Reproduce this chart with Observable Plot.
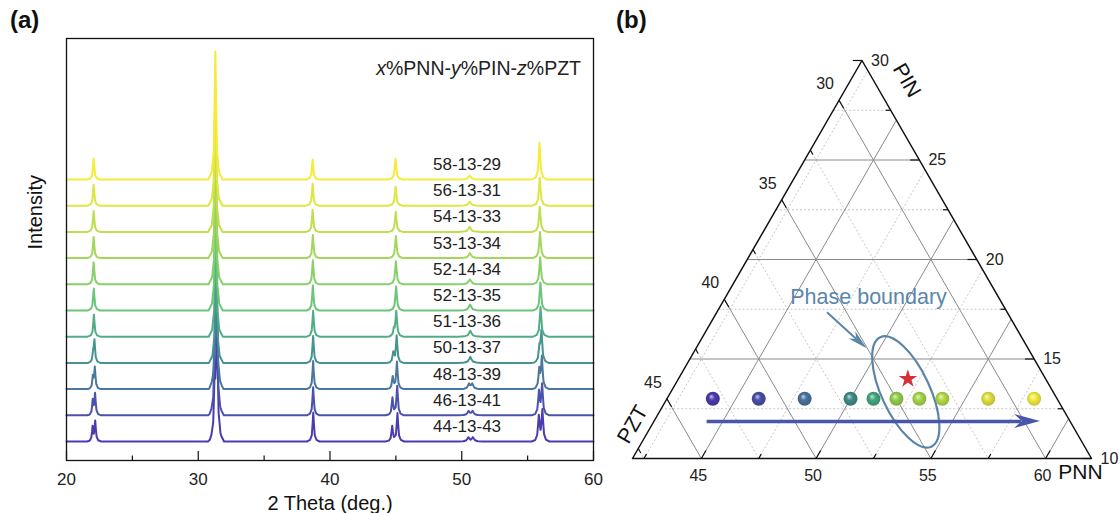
<!DOCTYPE html>
<html><head><meta charset="utf-8">
<script src="https://cdn.jsdelivr.net/npm/d3@7"></script>
<script src="https://cdn.jsdelivr.net/npm/@observablehq/plot@0.6"></script>
<style>
body{margin:0;background:#fff;font-family:"Liberation Sans",Arial,sans-serif;}
#wrap{position:relative;width:1120px;height:513px;overflow:hidden;background:#fff}
#pa{position:absolute;left:0;top:0}
#pb{position:absolute;left:600px;top:0}
.tag{position:absolute;font-weight:bold;font-size:24px;line-height:24px;color:#111;font-family:"Liberation Sans",Arial,sans-serif}
</style></head><body>
<div id="wrap"><div id="pa"></div><div id="pb"></div>
<div class="tag" style="left:10px;top:8px">(a)</div>
<div class="tag" style="left:616px;top:8px">(b)</div></div>
<script>
// ---------- data ----------
const samples = ["44-13-43","46-13-41","48-13-39","50-13-37","51-13-36","52-13-35","52-14-34","53-13-34","54-13-33","56-13-31","58-13-29"];
const pnn = [44,46,48,50,51,52,52,53,54,56,58];
const pin = [13,13,13,13,13,13,14,13,13,13,13];
const pzt = [43,41,39,37,36,35,34,34,33,31,29];
const traceColors = ["#4a3cb0","#4b52ad","#4b76a0","#47938f","#52ad85","#6cc57a","#88d06c","#a3d75c","#c0de4f","#dde643","#f5ec3a"];
const ballColors  = ["#4b3aae","#4a4fa8","#49739e","#3e8c88","#43a67f","#93cd4d","#d62f3a","#a6d54a","#b3d947","#dfe03e","#f1eb3d"];
const starSample = "52-14-34";
// XRD peaks per sample: [2theta, height, width]
const peakList = [
 [[21.98,14,.14],[22.18,20,.15],[31.25,55,.17],[31.42,118,.18],[38.73,29,.16],[44.72,15,.17],[45.12,28,.17],[50.5,4,.25],[50.85,4,.25],[55.85,25,.18],[56.12,31,.18]],
 [[21.99,14,.14],[22.17,21,.15],[31.26,50,.17],[31.4,118,.18],[38.72,28,.16],[44.74,17,.17],[45.1,29,.17],[50.52,4,.25],[50.82,4,.25],[55.86,23,.18],[56.1,30,.18]],
 [[22.0,11,.14],[22.15,21,.15],[31.28,40,.17],[31.38,118,.18],[38.72,28,.16],[44.76,12,.17],[45.08,27,.17],[50.55,5,.25],[50.8,5,.25],[55.88,18,.18],[56.08,31,.18]],
 [[22.02,8,.14],[22.12,22,.15],[31.35,120,.18],[38.72,27,.16],[44.8,10,.17],[45.06,27,.17],[50.65,6,.3],[55.9,14,.18],[56.05,31,.18]],
 [[22.08,22,.16],[31.33,118,.18],[38.72,26,.16],[44.85,6,.17],[45.03,25,.18],[50.65,6,.3],[55.98,30,.19]],
 [[22.07,22,.16],[31.32,118,.18],[38.7,25,.16],[45.02,24,.18],[50.63,6,.3],[55.97,28,.19]],
 [[22.06,22,.16],[31.32,115,.18],[38.7,24,.16],[45.0,23,.18],[50.62,5,.3],[55.95,27,.19]],
 [[22.06,21,.16],[31.31,115,.18],[38.7,23,.16],[45.0,22,.18],[50.62,5,.3],[55.94,26,.19]],
 [[22.06,21,.16],[31.3,115,.18],[38.68,22,.16],[44.99,20,.18],[50.6,5,.3],[55.92,25,.19]],
 [[22.06,21,.16],[31.3,115,.18],[38.68,22,.16],[44.98,19,.18],[50.6,4,.3],[55.92,28,.19]],
 [[22.06,21,.16],[31.3,128,.18],[38.68,20,.16],[44.97,21,.18],[50.6,4,.3],[55.9,37,.19]]
];
// peak outline template (offsets in widths, fraction of height)
const profileDx = [-3,-1.5,-0.7,-0.3,0,0.3,0.7,1.5,3];
const profileFr = [0,0.06,0.22,0.62,1,0.62,0.22,0.06,0];
const xMajor = [20,30,40,50,60];
const xMinor = [25,35,45,55];
const formulaText = "x%PNN-y%PIN-z%PZT";

// ternary axes
const pinTicks = [10,12.5,15,17.5,20,22.5,25,27.5,30];
const pztTicks = [30,32.5,35,37.5,40,42.5,45,47.5];
const pnnTicks = [42.5,45,47.5,50,52.5,55,57.5,60];
const pinLabels = [10,15,20,25,30];
const pztLabels = [30,35,40,45];
const pnnLabels = [45,50,55,60];
const pinGrid = [12.5,15,17.5,20,22.5,25,27.5];
const pnnGrid = [42.5,45,47.5,50,52.5,55,57.5,60];
const pztGrid = [30,32.5,35,37.5,40,42.5,45,47.5];
const axisTitles = [{t:"PIN",pnn:44.45,pin:29.0,rot:60},{t:"PZT",pnn:41.15,pin:11.71,rot:-60},{t:"PNN",pnn:61.87,pin:9.3,rot:0}];
const boundary = {pnn:52.27, pin:13.32, a:2.63, b:1.05, angle:-25};
const phaseText = {t:"Phase boundary", pnn:48.24, pin:18.09};
const arrows = [
  {from:[46.8,17.35], to:[49.47,15.51], color:"#5a84a8", w:2, L:20, W:10},
  {from:[44.3,11.86], to:[58.85,11.86], color:"#4a56a8", w:3.5, L:26, W:14}
];

// ---------- panel (a) ----------
const STEP = 26.2, LABEL_X = 50.4, FONT = "Liberation Sans, Arial, sans-serif";
function profileAt(t){
  if (t<=profileDx[0] || t>=profileDx[profileDx.length-1]) return 0;
  for (let k=1;k<profileDx.length;k++) if (t<=profileDx[k]) {
    const a=profileDx[k-1], b=profileDx[k];
    return profileFr[k-1] + (profileFr[k]-profileFr[k-1])*(t-a)/(b-a);
  }
  return 0;
}
const rows = [];
samples.forEach((s,i)=>{
  const pk = peakList[i];
  const xs = new Set([20,60]);
  pk.forEach(([c,h,w])=>profileDx.forEach(d=>xs.add(+(c+d*w).toFixed(4))));
  [...xs].sort((a,b)=>a-b).forEach(x=>{
    let v=0; pk.forEach(([c,h,w])=>{v+=h*profileAt((x-c)/w);});
    rows.push({sample:s,i,x,y:v+i*STEP});
  });
});

const chartA = Plot.plot({
  width:615, height:513, marginLeft:66, marginRight:22, marginTop:38, marginBottom:53,
  style:{fontFamily:FONT, background:"transparent", color:"#111"},
  x:{domain:[20,60]}, y:{domain:[-19,403], axis:null},
  marks:[
    Plot.line(rows,{x:"x",y:"y",z:"sample",stroke:d=>traceColors[d.i],strokeWidth:2}),
    Plot.text(samples,{x:LABEL_X,y:(d,i)=>i*STEP+15,text:d=>d,fontSize:17,fill:"#222"}),
    Plot.text([formulaText],{x:59.05,y:373,text:d=>d,textAnchor:"end",fontSize:19.5,fill:"#222"}),
    Plot.ruleX(xMajor,{y1:-19,y2:-10,stroke:"#111",strokeWidth:1.2}),
    Plot.ruleX(xMinor,{y1:-19,y2:-14.5,stroke:"#111",strokeWidth:1.2}),
    Plot.axisX(xMajor,{tickSize:0,tickPadding:12,fontSize:17,label:null,fill:"#222"}),
    Plot.text(["2 Theta (deg.)"],{frameAnchor:"bottom",dy:49,fontSize:20,fill:"#111"}),
    Plot.text(["Intensity"],{frameAnchor:"left",dx:-31,rotate:-90,fontSize:20,fill:"#111"}),
    Plot.frame({stroke:"#111",strokeWidth:1.3})
  ]
});
document.getElementById("pa").appendChild(chartA);
d3.select(chartA).selectAll("text").filter(function(){return this.textContent===formulaText;}).each(function(){
  const t=d3.select(this); t.text("");
  [["x",1],["%PNN-",0],["y",1],["%PIN-",0],["z",1],["%PZT",0]].forEach(([s,it])=>{
    const sp=t.append("tspan").text(s); if(it) sp.attr("font-style","italic");
  });
});

// ---------- panel (b) ----------
const PNN0=42, PIN0=10, SPAN=20, PZT0=100-PNN0-PIN0, SQ=Math.sqrt(3)/2;
const uv=(u,v)=>({X:u+v/2,Y:v*SQ});
const tern=(a,b)=>uv((a-PNN0)/SPAN,(b-PIN0)/SPAN);

const grid=[];
pinGrid.forEach(p=>{const v=(p-PIN0)/SPAN; grid.push({a:uv(0,v),b:uv(1-v,v),major:p%5===0});});
pnnGrid.forEach(n=>{const u=(n-PNN0)/SPAN; grid.push({a:uv(u,0),b:uv(u,1-u),major:n%5===0});});
pztGrid.forEach(z=>{const s=(PZT0-z)/SPAN; grid.push({a:uv(0,s),b:uv(s,0),major:z%5===0});});
const ticks=[];
const tl=v=>v%5===0?0.02:0.011;
pinTicks.forEach(p=>{const v=(p-PIN0)/SPAN,l=tl(p); ticks.push({a:uv(1-v,v),b:uv(1-v-l,v)});});
pztTicks.forEach(z=>{const s=(PZT0-z)/SPAN,l=tl(z); ticks.push({a:uv(0,s),b:uv(l,s-l)});});
pnnTicks.forEach(n=>{const u=(n-PNN0)/SPAN,l=tl(n); ticks.push({a:uv(u,0),b:uv(u,l)});});
const triangle=[uv(0,0),uv(1,0),uv(0,1),uv(0,0)];
const pts = samples.map((s,i)=>({s,i,...tern(pnn[i],pin[i])}));
const balls = pts.filter(d=>d.s!==starSample);
const star = pts.filter(d=>d.s===starSample);

const link=(data,o)=>Plot.link(data,{x1:d=>d.a.X,y1:d=>d.a.Y,x2:d=>d.b.X,y2:d=>d.b.Y,...o});

function ellipseMark(index, scales){
  const c=tern(boundary.pnn,boundary.pin);
  const k=(scales.x(1)-scales.x(0))/SPAN;
  const cx=scales.x(c.X), cy=scales.y(c.Y);
  const g=d3.create("svg:g");
  g.append("ellipse").attr("cx",cx).attr("cy",cy).attr("rx",boundary.b*k).attr("ry",boundary.a*k)
   .attr("transform",`rotate(${boundary.angle} ${cx} ${cy})`)
   .attr("fill","none").attr("stroke","#5a84a8").attr("stroke-width",2.2);
  return g.node();
}
function headsMark(index, scales){
  const g=d3.create("svg:g");
  arrows.forEach(a=>{
    const p1=tern(...a.from), p2=tern(...a.to);
    const x1=scales.x(p1.X),y1=scales.y(p1.Y),x2=scales.x(p2.X),y2=scales.y(p2.Y);
    const ang=Math.atan2(y2-y1,x2-x1)*180/Math.PI;
    g.append("path").attr("d",`M0,0L${-a.L},${-a.W/2}L${-0.7*a.L},0L${-a.L},${a.W/2}Z`)
     .attr("transform",`translate(${x2},${y2}) rotate(${ang})`).attr("fill",a.color);
  });
  return g.node();
}
const shafts = arrows.map(a=>{const p1=tern(...a.from),p2=tern(...a.to);
  const f=1-(0.75*a.L)/(459*Math.hypot(p2.X-p1.X,p2.Y-p1.Y));
  return {a:p1,b:{X:p1.X+(p2.X-p1.X)*f,Y:p1.Y+(p2.Y-p1.Y)*f},color:a.color,w:a.w};});

const chartB = Plot.plot({
  width:520, height:513, marginLeft:32, marginRight:29, marginTop:60, marginBottom:55,
  style:{fontFamily:FONT, background:"transparent", color:"#111"},
  x:{domain:[0,1],axis:null}, y:{domain:[0,SQ],axis:null}, color:{type:"identity"},
  marks:[
    link(grid.filter(g=>!g.major),{stroke:"#b8b8b8",strokeWidth:0.8,strokeDasharray:"2,2"}),
    link(grid.filter(g=>g.major),{stroke:"#8a8a8a",strokeWidth:1}),
    link(ticks,{stroke:"#111",strokeWidth:1.2}),
    Plot.line(triangle,{x:"X",y:"Y",stroke:"#111",strokeWidth:1.5}),
    Plot.text(pinLabels,{x:p=>uv(1-(p-PIN0)/SPAN,(p-PIN0)/SPAN).X,y:p=>uv(0,(p-PIN0)/SPAN).Y,text:d=>String(d),dx:9,textAnchor:"start",fontSize:16,fill:"#222"}),
    Plot.text(pztLabels,{x:z=>uv(0,(PZT0-z)/SPAN).X,y:z=>uv(0,(PZT0-z)/SPAN).Y,text:d=>String(d),dx:-14,dy:-16,fontSize:16,fill:"#222"}),
    Plot.text(pnnLabels,{x:n=>uv((n-PNN0)/SPAN,0).X,y:0,text:d=>String(d),dx:-3,dy:17,fontSize:16,fill:"#222"}),
    ...axisTitles.map(t=>Plot.text([t],{x:d=>tern(d.pnn,d.pin).X,y:d=>tern(d.pnn,d.pin).Y,text:"t",rotate:t.rot,fontSize:21,fill:"#111"})),
    Plot.text([phaseText],{x:d=>tern(d.pnn,d.pin).X,y:d=>tern(d.pnn,d.pin).Y,text:"t",fontSize:21.5,fill:"#5b86ab"}),
    ellipseMark,
    link(shafts,{stroke:d=>d.color,strokeWidth:d=>d.w}),
    headsMark,
    Plot.dot(balls,{x:"X",y:"Y",r:7,fill:d=>`url(#ball${d.i})`}),
    Plot.dot(star,{x:"X",y:"Y",r:5.8,symbol:"star",fill:d=>ballColors[d.i]})
  ]
});
const defs = d3.select(chartB).insert("defs",":first-child");
ballColors.forEach((c,i)=>{
  const gr=defs.append("radialGradient").attr("id","ball"+i).attr("cx","0.5").attr("cy","0.5").attr("r","0.55").attr("fx","0.38").attr("fy","0.32");
  gr.append("stop").attr("offset","0").attr("stop-color",d3.interpolateRgb(c,"#fff")(0.7));
  gr.append("stop").attr("offset","0.4").attr("stop-color",c);
  gr.append("stop").attr("offset","1").attr("stop-color",d3.color(c).darker(0.6).formatHex());
});
document.getElementById("pb").appendChild(chartB);
</script>
</body></html>
